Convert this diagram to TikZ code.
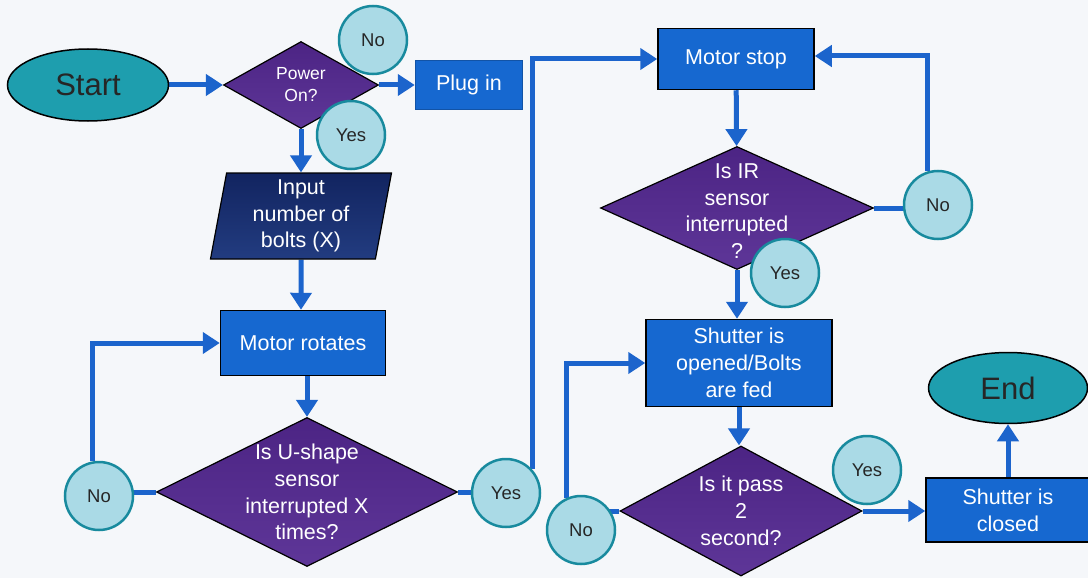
\documentclass[tikz,border=0pt]{standalone}
\usepackage{fontspec}
\setmainfont{Liberation Sans}
\usetikzlibrary{shapes.geometric,arrows.meta}

\definecolor{paper}{RGB}{245,247,250}
\definecolor{termteal}{RGB}{30,158,174}
\definecolor{decdark}{RGB}{76,36,132}
\definecolor{declight}{RGB}{94,54,152}
\definecolor{navydark}{RGB}{18,36,96}
\definecolor{navylight}{RGB}{34,60,128}
\definecolor{boxblue}{RGB}{22,104,208}
\definecolor{flowblue}{RGB}{28,100,204}
\definecolor{ansfill}{RGB}{170,218,230}
\definecolor{ansedge}{RGB}{24,138,158}

\pgfdeclarelayer{back}
\pgfsetlayers{back,main}

\begin{document}
\begin{tikzpicture}[x=1pt, y=-1pt,
    terminal/.style={ellipse, draw=black, line width=1.5pt, fill=termteal, inner sep=0pt,
        text=black!85, font=\fontsize{31}{36}\selectfont},
    process/.style={rectangle, draw=black, line width=1.5pt, fill=boxblue, text=white,
        align=center, inner sep=0pt, font=\fontsize{21.5}{26.7}\selectfont},
    decision/.style={diamond, draw=black, line width=1.2pt, top color=decdark,
        bottom color=declight, inner sep=0pt},
    dtext/.style={text=white, align=center, font=\fontsize{21.5}{26.7}\selectfont},
    answer/.style={circle, draw=ansedge, line width=2.5pt, fill=ansfill, minimum size=68pt,
        inner sep=0pt, text=black!85, font=\fontsize{18.5}{22}\selectfont},
    flow/.style={draw=flowblue, line width=5pt, -{Triangle[length=17pt,width=21pt]}},
    link/.style={draw=flowblue, line width=5pt}
]
    \useasboundingbox (0,0) rectangle (1088,578);

    \node[terminal, minimum width=161pt, minimum height=72pt] (start) at (88,85) {Start};
    \node[decision, minimum width=155pt, minimum height=87pt] (power) at (301,85) {};
    \node[dtext, font=\fontsize{17.5}{22}\selectfont] (powertxt) at (power) {Power\\On?};
    \node[process, draw=boxblue!80!black, minimum width=107pt, minimum height=49pt] (plug) at (469,85) {Plug in};

    \node[trapezium, trapezium left angle=77.5, trapezium right angle=102.5, trapezium stretches body,
        draw=black, line width=1.2pt, top color=navydark, bottom color=navylight, text=white,
        align=center, inner sep=0pt, minimum width=181pt, minimum height=86pt,
        font=\fontsize{21.5}{26.7}\selectfont] (input) at (301,216) {Input\\number of\\bolts (X)};

    \node[process, minimum width=165pt, minimum height=65pt] (rotate) at (303,343) {Motor rotates};
    \node[decision, minimum width=301pt, minimum height=149pt] (ushape) at (307,492) {};
    \node[dtext] (ushapetxt) at (ushape) {Is U-shape\\sensor\\interrupted X\\times?};

    \node[process, minimum width=156pt, minimum height=61pt] (stop) at (736,59) {Motor stop};
    \node[decision, minimum width=273pt, minimum height=123pt] (irsense) at (737,208) {};
    \node[dtext] (irtxt) at ([yshift=-3pt]irsense) {Is IR\\sensor\\interrupted\\?};

    \node[process, minimum width=186pt, minimum height=87pt] (shutter) at (739,363) {Shutter is\\opened/Bolts\\are fed};
    \node[decision, minimum width=242pt, minimum height=130pt] (pass) at (741,511) {};
    \node[dtext] (passtxt) at (pass) {Is it pass\\2\\second?};

    \node[process, minimum width=164pt, minimum height=64pt] (closed) at (1008,510) {Shutter is\\closed};
    \node[terminal, minimum width=159pt, minimum height=71pt] (finish) at (1008,388) {End};

    \node[answer] (powerno) at (373,40) {No};
    \node[answer] (poweryes) at (351,135) {Yes};
    \node[answer] (uno) at (99,496) {No};
    \node[answer] (uyes) at (506,493) {Yes};
    \node[answer] (irno) at (938,205) {No};
    \node[answer] (iryes) at (785,273) {Yes};
    \node[answer] (passno) at (581,530) {No};
    \node[answer] (passyes) at (867,470) {Yes};

    \begin{pgfonlayer}{back}
    \fill[paper] (0,0) rectangle (1088,578);
    \draw[flow] (start) -- (power);
    \draw[flow] (power) -- (plug);
    \draw[flow] (power) -- (input);
    \draw[flow] (input) -- (input |- rotate.north);
    \draw[flow] (rotate.south -| ushape) -- (ushape.north);
    \draw[link] (ushape.west) -- (ushape.west -| uno);
    \draw[flow] (uno.100) |- (rotate.west);
    \draw[link] (ushape.east) -- (ushape.east -| uyes);
    \draw[flow] (uyes.42) |- (stop.west);
    \draw[flow] (stop) -- (irsense);
    \draw[link] (irsense.east) -- (irsense.east -| irno);
    \draw[flow] (irno.108) |- ([yshift=3pt]stop.east);
    \draw[flow] (irsense) -- (irsense |- shutter.north);
    \draw[flow] (shutter) -- (shutter |- pass.north);
    \draw[link] (pass.west) -- (pass.west -| passno);
    \draw[flow] (passno.115) |- (shutter.west);
    \draw[flow] (pass.east) -- (pass.east -| closed.west);
    \draw[flow] (closed) -- (finish);
    \end{pgfonlayer}
\end{tikzpicture}
\end{document}
